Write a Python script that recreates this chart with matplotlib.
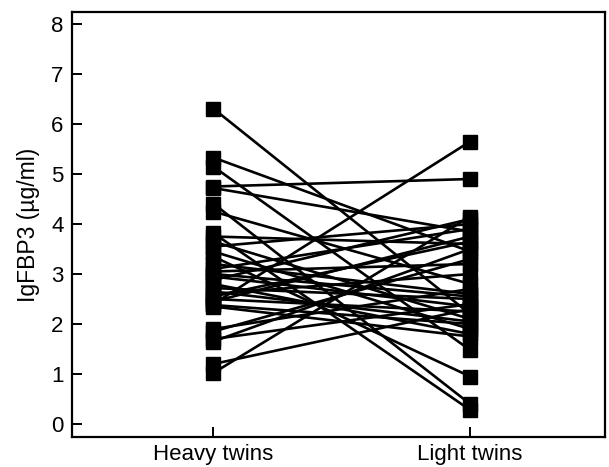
import matplotlib
matplotlib.use('Agg')
import matplotlib.pyplot as plt
import numpy as np

plt.rcParams['font.family'] = ['Liberation Sans', 'DejaVu Sans']

groups = ['Heavy twins', 'Light twins']
yticks = [0, 1, 2, 3, 4, 5, 6, 7, 8]

# paired IgFBP3 values (ug/ml), heavy twin vs light twin
heavy = [6.31, 5.33, 5.15, 4.75, 4.72, 4.41, 4.25, 3.82, 3.75, 3.65, 3.55,
         3.45, 3.35, 3.2, 3.1, 3.05, 3.0, 2.95, 2.88, 2.8, 2.72, 2.65, 2.6,
         2.55, 2.5, 2.45, 2.4, 2.38, 2.35, 1.9, 1.85, 1.7, 1.65, 1.2, 1.02]
light = [2.2, 3.45, 1.48, 4.9, 3.85, 0.4, 2.8, 0.28, 3.6, 2.1, 4.0,
         1.9, 0.95, 2.6, 3.9, 3.2, 2.55, 2.35, 4.1, 1.8, 2.5, 2.05, 3.0,
         3.65, 2.25, 3.75, 5.65, 2.0, 1.75, 2.7, 3.3, 2.4, 3.5, 2.3, 4.15]

fig = plt.figure(figsize=(6.09, 4.67), dpi=100)
ax = fig.add_axes([0.1182, 0.0642, 0.8752, 0.9101])

for h, l in zip(heavy, light):
    ax.plot([0, 1], [h, l], color='black', lw=1.9, marker='s', ms=10,
            mfc='black', mec='black', solid_capstyle='butt')

ax.set_xlim(-0.55, 1.525)
ax.set_ylim(-0.26, 8.24)
ax.set_xticks([0, 1])
ax.set_xticklabels(groups, fontsize=16)
ax.set_yticks(yticks)
ax.set_yticklabels([str(t) for t in yticks], fontsize=16)
ax.set_ylabel('IgFBP3 (µg/ml)', fontsize=16.5, labelpad=8)

ax.tick_params(direction='in', length=7.5, width=1.4, pad=6)
ax.tick_params(axis='x', pad=5)
for s in ax.spines.values():
    s.set_linewidth(1.6)

fig.savefig('out.png', dpi=100)
